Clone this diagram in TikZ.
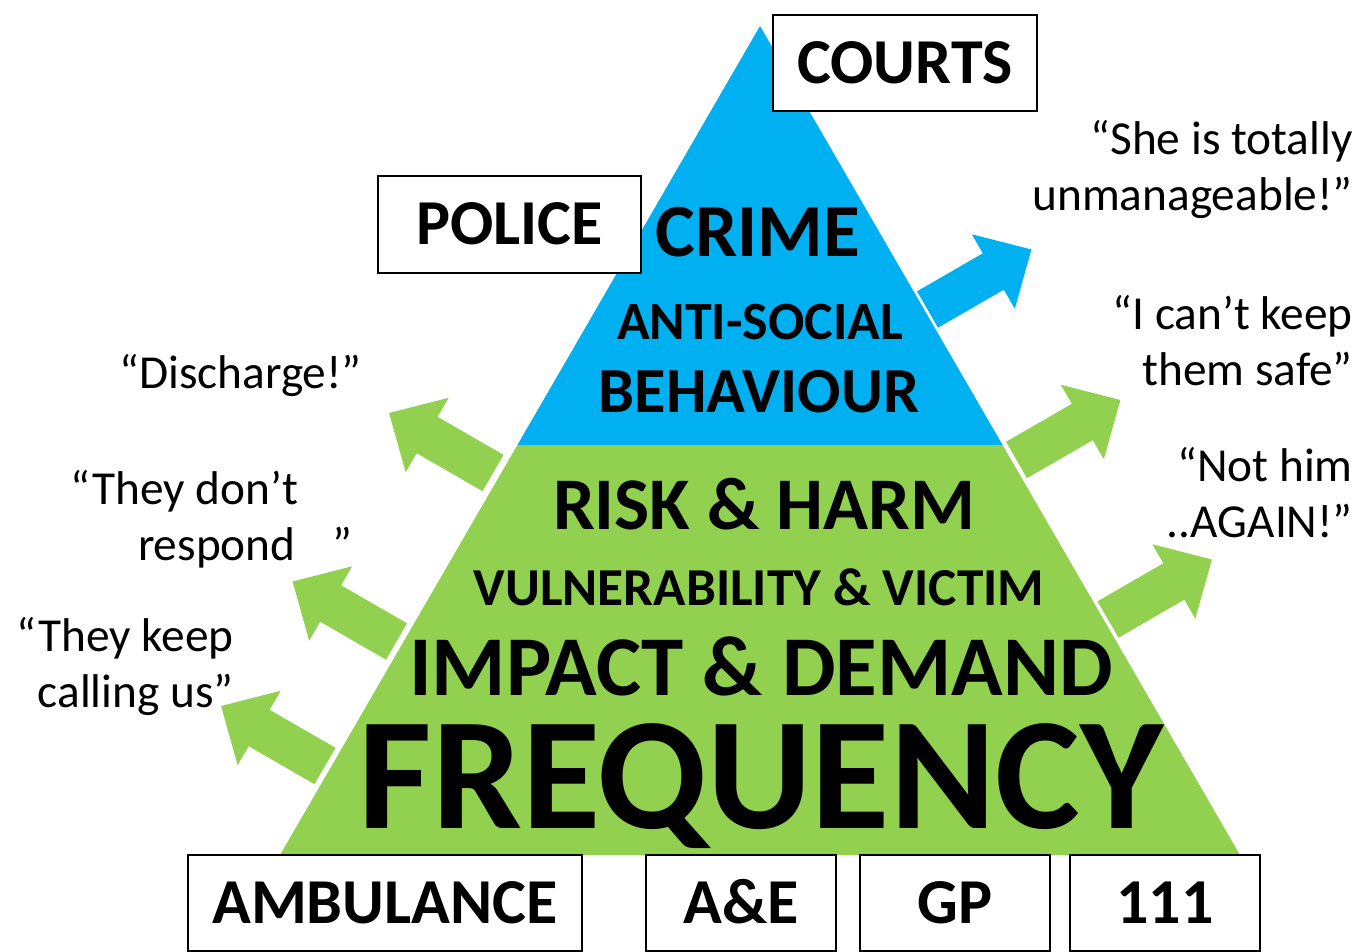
\documentclass[tikz,border=0pt]{standalone}
\usepackage{fontspec}
\setmainfont{Carlito}
\definecolor{pyrblue}{HTML}{00B0F0}
\definecolor{pyrgreen}{HTML}{92D050}
\tikzset{
  blockarrow/.pic={\fill (0,-21) -- (76,-21) -- (76,-43) -- (120,0) -- (76,43) -- (76,21) -- (0,21) -- cycle;},
  labelbox/.style={draw=black, line width=1.5pt, fill=white, inner sep=0pt,
    font=\bfseries\fontsize{48pt}{56pt}\selectfont, text height=30pt, text depth=0pt},
  tier/.style={inner sep=0pt, anchor=base},
  quote/.style={inner sep=0pt, align=right, font=\fontsize{35.5pt}{42pt}\selectfont}
}
\begin{document}
\begin{tikzpicture}[x=0.75pt,y=-0.75pt]
\useasboundingbox (0,0) rectangle (1365,951);
% pyramid
\coordinate (apex) at (760,26);
\coordinate (ml) at (517.4,445);
\coordinate (mr) at (1002.6,445);
\coordinate (bl) at (280,855);
\coordinate (br) at (1240,855);
\fill[pyrblue] (apex) -- (mr) -- (ml) -- cycle;
\fill[pyrgreen] (ml) -- (mr) -- (br) -- (bl) -- cycle;
% arrows
\pic[pyrblue, rotate=30] at (927.5,309.5) {blockarrow};
\pic[pyrgreen, rotate=30] at (1016.5,460) {blockarrow};
\pic[pyrgreen, rotate=30] at (1108,619.5) {blockarrow};
\pic[pyrgreen, rotate=150] at (493,473) {blockarrow};
\pic[pyrgreen, rotate=150] at (396.5,641.5) {blockarrow};
\pic[pyrgreen, rotate=150] at (325,766) {blockarrow};
% boxes
\node[labelbox, minimum width=198pt, minimum height=72pt] (courts) at (905,63) {COURTS};
\node[labelbox, minimum width=197.25pt, minimum height=72.75pt] (police) at (509.5,224) {POLICE};
\node[labelbox, minimum width=295.5pt, minimum height=72pt] (ambulance) at (385,903) {AMBULANCE};
\node[labelbox, minimum width=142.5pt, minimum height=72pt] (ae) at (741,903) {A\&E};
\node[labelbox, minimum width=142.5pt, minimum height=72pt] (gp) at (955,903) {GP};
\node[labelbox, minimum width=142.5pt, minimum height=72pt] (n111) at (1165,903) {111};
% tier texts
\node[tier, font=\bfseries\fontsize{56.3pt}{66pt}\selectfont] (crime) at (758,256) {CRIME};
\node[tier, font=\bfseries\fontsize{40.4pt}{48pt}\selectfont] (asb1) at (760,339) {ANTI-SOCIAL};
\node[tier, font=\bfseries\fontsize{48.2pt}{56pt}\selectfont] (asb2) at (759,412) {BEHAVIOUR};
\node[tier, font=\bfseries\fontsize{55.7pt}{66pt}\selectfont] (risk) at (764,529) {RISK \& HARM};
\node[tier, font=\bfseries\fontsize{40pt}{48pt}\selectfont] (vuln) at (759,605) {VULNERABILITY \& VICTIM};
\node[tier, font=\bfseries\fontsize{63.8pt}{74pt}\selectfont] (impact) at (761,695) {IMPACT \& DEMAND};
\node[tier, font=\bfseries\fontsize{120pt}{140pt}\selectfont] (freq) at (761,828) {FREQUENCY};
% quotes (base anchor = baseline of last line)
\node[quote, anchor=base east] (q1) at (1353,210) {“She is totally\\unmanageable!”};
\node[quote, anchor=base east] (q2) at (1353,385) {“I can’t keep\\them safe”};
\node[quote, anchor=base east] (q3) at (1353,537) {“Not him\\..AGAIN!”};
\node[quote, anchor=base east] (q4) at (362,388) {“Discharge!”};
\node[quote, anchor=base east] (q5) at (353,560) {“They don’t\makebox[41pt]{}\\respond\hspace*{28pt}”};
\node[quote, anchor=base east] (q6) at (234,707) {“They keep\\calling us”};
\end{tikzpicture}
\end{document}
